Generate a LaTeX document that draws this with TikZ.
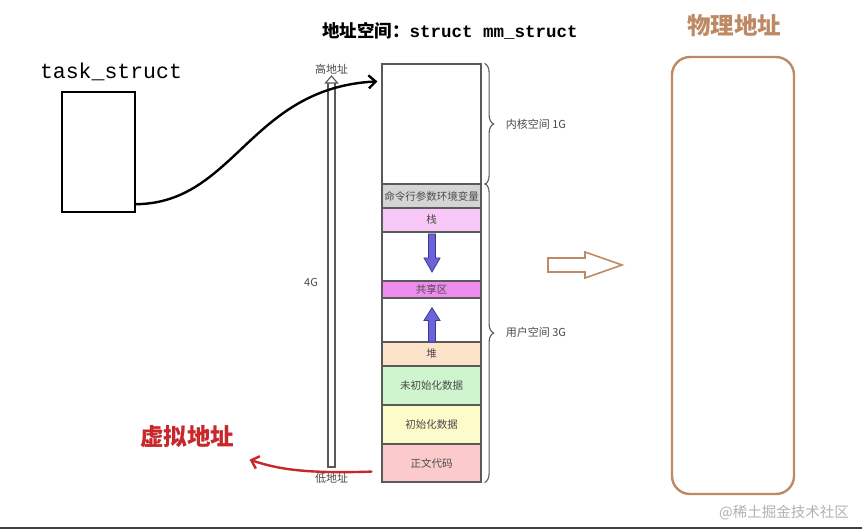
\documentclass[tikz,border=0pt]{standalone}
\usepackage{fontspec}
\setmainfont{Noto Sans CJK SC}
\newfontfamily\codefont{Liberation Mono}
\usetikzlibrary{decorations.pathreplacing,arrows.meta}

\definecolor{segline}{HTML}{5A5A5A}
\definecolor{labelgray}{HTML}{4A4A4A}
\definecolor{argsgray}{HTML}{D4D4D4}
\definecolor{stackpink}{HTML}{F8C8F8}
\definecolor{sharedpink}{HTML}{EE8CEE}
\definecolor{heapcol}{HTML}{FDE2CA}
\definecolor{bsscol}{HTML}{CFF5CF}
\definecolor{datacol}{HTML}{FDFBCA}
\definecolor{textcol}{HTML}{FBCBCB}
\definecolor{arrowblue}{HTML}{6C62DC}
\definecolor{arrowline}{HTML}{3A3A90}
\definecolor{physbrown}{HTML}{BE8A66}
\definecolor{virtred}{HTML}{C8282C}

\tikzset{
	seg/.style={draw=segline, line width=1.2pt, minimum width=99pt, inner sep=0pt,
		font=\fontsize{10.5}{12}\selectfont, text=labelgray},
	brace/.style={decorate, decoration={brace, amplitude=9pt}, draw=segline, line width=1.1pt},
	smalltext/.style={font=\fontsize{11}{13}\selectfont, text=labelgray, inner sep=0pt},
	handarrow/.style={line width=2.4pt, line cap=round, -{Straight Barb[length=7pt,width=13pt]}},
	vflow/.pic={
		\draw[draw=arrowline, fill=arrowblue, line width=0.8pt]
			(-3.5,0) -- (3.5,0) -- (3.5,24) -- (8,24) -- (0,38) -- (-8,24) -- (-3.5,24) -- cycle;
	},
}

\begin{document}
\begin{tikzpicture}[x=1pt, y=-1pt]
	\useasboundingbox (0,0) rectangle (862,529);
	\fill[white] (0,0) rectangle (862,529);

	% titles
	\node (title) at (450,31) {\bfseries\fontsize{17.5}{20}\selectfont 地址空间：\codefont struct mm\_struct};
	\node (tasklbl) at (111,72) {\codefont\fontsize{21.5}{24}\selectfont task\_struct};
	\node[text=physbrown] (physlbl) at (734,26) {\bfseries\fontsize{23.5}{26}\selectfont 物理地址};
	\node[text=virtred] (virt) at (187,437) {\bfseries\fontsize{23.5}{26}\selectfont 虚拟地址};

	% task_struct
	\node[draw, line width=2.4pt, minimum width=73pt, minimum height=120pt] (task) at (98.5,152) {};

	% address axis
	\draw[segline, line width=1.1pt] (328,83) -- (328,467) -- (335,467) -- (335,83);
	\draw[segline, line width=1.1pt, fill=white] (325.5,83) -- (331.5,76) -- (337.5,83) -- cycle;
	\node[smalltext] (high) at (331.5,69) {高地址};
	\node[smalltext] (low) at (331.5,478) {低地址};
	\node[smalltext] (four) at (311,282) {4G};

	% memory layout
	\foreach \nm/\ya/\yb/\col/\txt in {
		kern/64/184/white/{},
		args/184/208/argsgray/命令行参数环境变量,
		stack/208/232/stackpink/栈,
		gapa/232/281/white/{},
		shared/281/298/sharedpink/共享区,
		gapb/298/342/white/{},
		heap/342/366/heapcol/堆,
		bss/366/405/bsscol/未初始化数据,
		data/405/444/datacol/初始化数据,
		text/444/482/textcol/正文代码}{
		\pgfmathsetmacro\h{\yb-\ya}
		\pgfmathsetmacro\m{(\ya+\yb)/2}
		\node[seg, fill=\col, minimum height=\h pt] (\nm) at (431.5,\m) {\txt};
	}
	\pic at (432,234) {vflow};
	\pic[yscale=-0.9] at (432,342) {vflow};

	% braces
	\draw[brace] ([xshift=3pt]kern.north east) -- ([xshift=3pt]kern.south east);
	\draw[brace] ([xshift=3pt]args.north east) -- ([xshift=3pt]text.south east);
	\node[smalltext, anchor=west] (kernlbl) at ([xshift=24pt]kern.east) {内核空间 1G};
	\path ([xshift=24pt]args.north east) -- ([xshift=24pt]text.south east)
		node[smalltext, anchor=west, midway, yshift=1pt] (userlbl) {用户空间 3G};

	% links
	\coordinate (taskout) at ([yshift=9pt]task.south east);
	\coordinate (kernin) at ([xshift=-4pt,yshift=-18pt]kern.north west);
	\draw[handarrow] (taskout) .. controls (235,203) and (250,88) .. (kernin);
	\coordinate (textout) at ([xshift=-10pt,yshift=11pt]text.south west);
	\coordinate (virtin) at ([xshift=12pt,yshift=-8pt]virt.south east);
	\draw[handarrow, virtred] (textout) .. controls (300,474) and (275,468) .. (virtin);

	% physical memory
	\draw[physbrown, line width=1.6pt] (548,258) -- (585,258) -- (585,252) -- (622,265)
		-- (585,278) -- (585,272) -- (548,272) -- cycle;
	\node[draw=physbrown, line width=2.4pt, rounded corners=18pt, minimum width=122pt,
		minimum height=437pt] (phys) at (733,275.5) {};

	% watermark
	\node[text=black!30] (mark) at (784,513) {\fontsize{14.5}{16}\selectfont @稀土掘金技术社区};
	\fill[black!75] (0,527) rectangle (862,529);
\end{tikzpicture}
\end{document}
